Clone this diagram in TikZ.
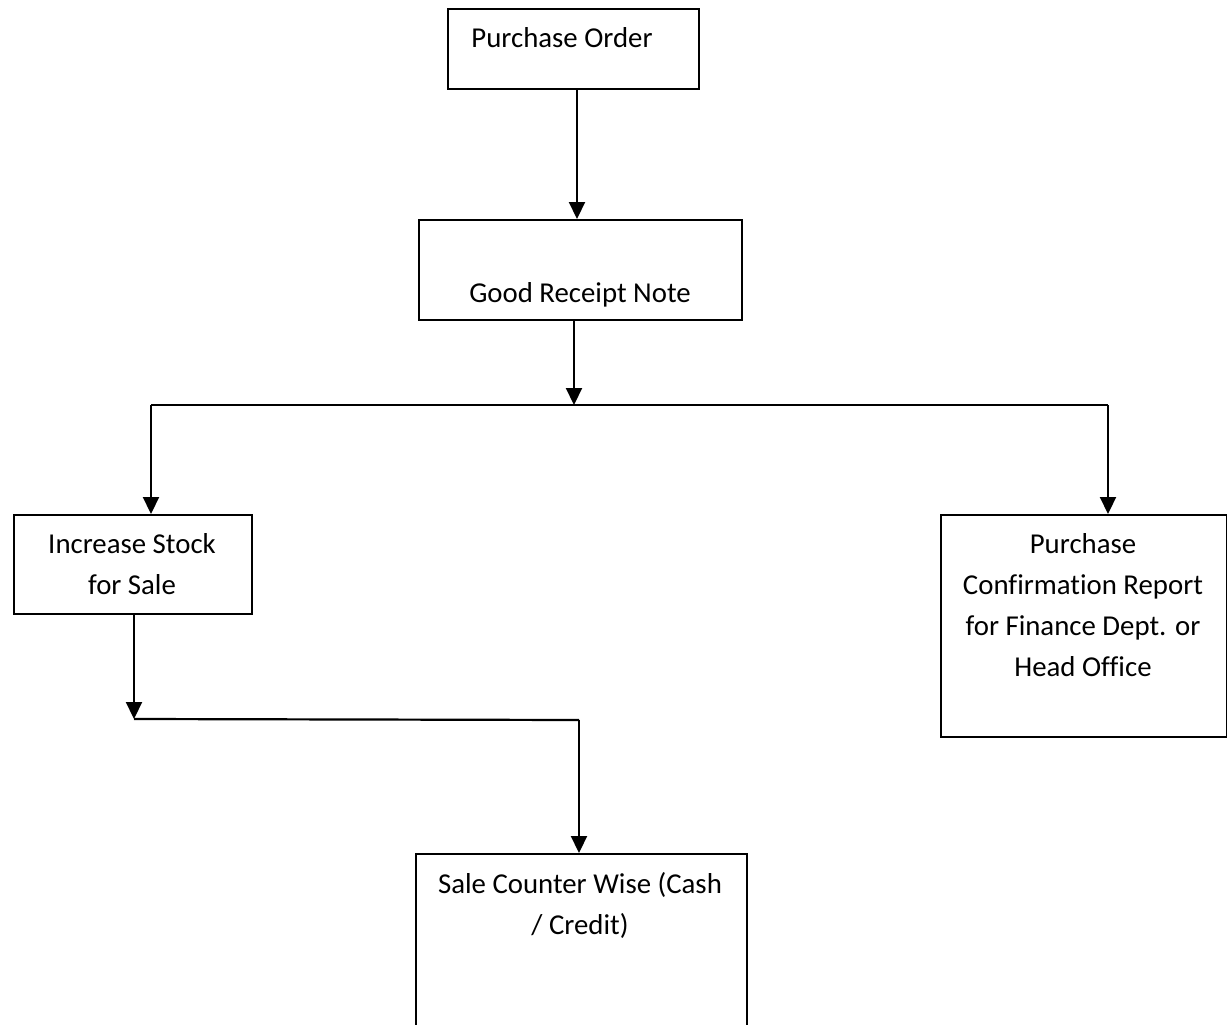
\documentclass[tikz,border=0pt]{standalone}
\usepackage{fontspec}
\setmainfont{Carlito}[Ligatures=NoCommon]
\usetikzlibrary{arrows.meta}
\begin{document}
\begin{tikzpicture}[x=1pt,y=-1pt,
  box/.style={draw,line width=2.2pt,rectangle,anchor=north west,inner sep=0pt},
  lbl/.style={align=center,inner sep=0pt,font=\fontsize{28.8}{41}\selectfont},
  link/.style={line width=2.2pt},
  arr/.style={link,-{Triangle[width=16pt,length=17pt]}}]
\useasboundingbox (0,0) rectangle (1227,1025);

% boxes
\node[box,minimum width=251pt,minimum height=80pt]  (po)   at (447,8)   {};
\node[box,minimum width=323pt,minimum height=100pt] (grn)  at (418,219) {};
\node[box,minimum width=238pt,minimum height=99pt]  (inc)  at (13,514)  {};
\node[box,minimum width=286pt,minimum height=222pt] (pcr)  at (940,514) {};
\node[box,minimum width=331pt,minimum height=190pt] (sale) at (415,853) {};

% texts
\node[lbl] (tpo)   at (562,38)   {Purchase Order};
\node[lbl] (tgrn)  at (580,295)  {Good Receipt Note};
\node[lbl] (tinc)  at (132,564)  {Increase Stock\\for Sale};
\node[lbl] (tpcr)  at (1083,605) {Purchase\\Confirmation Report\\for Finance Dept. or\\Head Office};
\node[lbl] (tsale) at (580,905)  {Sale Counter Wise (Cash\\/ Credit)};

% junction points
\coordinate (j)  at (574,405);
\coordinate (jl) at (151,405);
\coordinate (jr) at (1108,405);
\coordinate (k1) at (134,719);
\coordinate (k2) at (579,720);
\coordinate (p1) at (577,0);

% connectors
\draw[arr] (po.south -| p1) -- (grn.north -| p1);
\draw[arr] (grn.south -| j) -- (j);
\draw[link] (jl) -- (jr);
\draw[arr] (jl) -- (jl |- inc.north);
\draw[arr] (jr) -- (jr |- pcr.north);
\draw[arr] (inc.south -| k1) -- (k1);
\draw[link] (k1) -- (k2);
\draw[arr] (k2) -- (k2 |- sale.north);
\end{tikzpicture}
\end{document}
